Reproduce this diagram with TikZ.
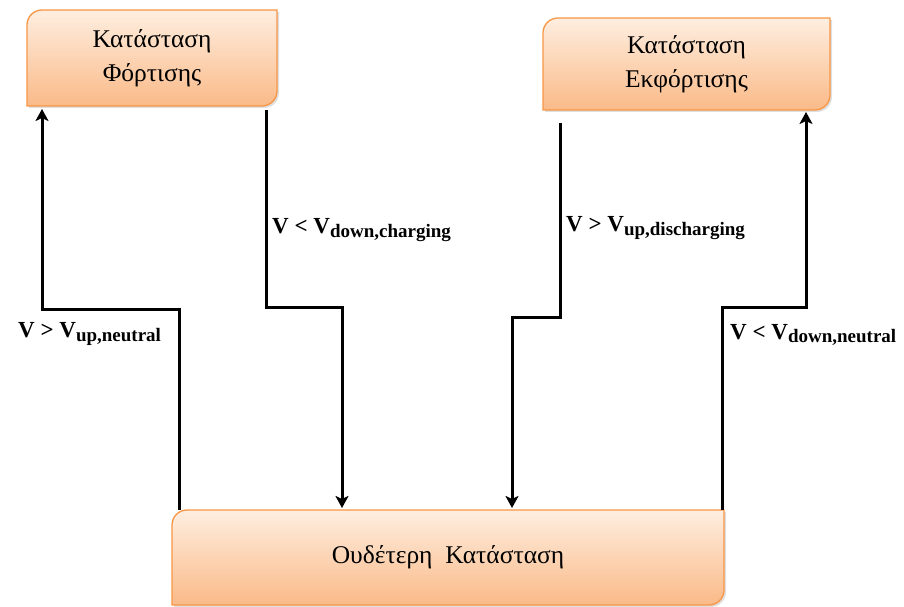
\documentclass[tikz,border=0pt]{standalone}
\usepackage{fontspec}
\setmainfont{Liberation Serif}
\usetikzlibrary{arrows.meta,shadows}
\definecolor{boxtop}{RGB}{254,238,224}
\definecolor{boxbot}{RGB}{250,186,136}
\definecolor{boxline}{RGB}{247,150,70}
\pgfdeclarelayer{bg}
\pgfsetlayers{bg,main}
\newcommand\drawstatebox[1]{%
  \path[boxshape] ([yshift=-15pt]#1.north west) arc[start angle=180,end angle=90,radius=15pt]
    -- (#1.north east) -- ([yshift=15pt]#1.south east) arc[start angle=0,end angle=-90,radius=15pt]
    -- (#1.south west) -- cycle;}
\newcommand\sub[1]{\raisebox{-0.3ex}{\fontsize{19}{19}\selectfont #1}}
\begin{document}
\begin{tikzpicture}[x=1pt,y=1pt,
  state/.style={rectangle, outer sep=0pt, inner sep=0pt, align=center,
    font=\fontsize{25.5}{34}\selectfont},
  boxshape/.style={top color=boxtop, bottom color=boxbot, draw=boxline, line width=1.3pt,
    drop shadow={opacity=0.25, shadow xshift=2pt, shadow yshift=-2pt}},
  arr/.style={line width=3pt, line join=miter, -{Stealth[length=12pt,width=13pt,inset=3pt]}},
  lab/.style={anchor=west, inner sep=0pt, font=\bfseries\fontsize{23}{23}\selectfont}]
\useasboundingbox (0,0) rectangle (904,607);

\node[state, minimum width=250pt, minimum height=96pt] (A) at (152,549) {Κατάσταση\\Φόρτισης};
\node[state, minimum width=287pt, minimum height=92pt] (B) at (686.5,543) {Κατάσταση\\Εκφόρτισης};
\node[state, minimum width=552pt, minimum height=95pt] (C) at (448,49.5) {Ουδέτερη\ \ Κατάσταση};

\begin{pgfonlayer}{bg}
\drawstatebox{A}
\drawstatebox{B}
\drawstatebox{C}
\end{pgfonlayer}

% connectors
\draw[arr] ([xshift=7pt]C.north west) -- ++(0,200) -| ([xshift=15pt,yshift=-3pt]A.south west);
\draw[arr] ([xshift=-11pt,yshift=-4pt]A.south east) -- ++(0,-198) -| ([xshift=170pt,yshift=2pt]C.north west);
\draw[arr] ([xshift=17pt,yshift=-13pt]B.south west) -- ++(0,-195) -| ([xshift=340pt,yshift=2pt]C.north west);
\draw[arr] ([xshift=-2pt]C.north east) -- ++(0,202) -| ([xshift=-24pt,yshift=-2pt]B.south east);

% labels
\node[lab] (l1) at (18,273) {V > V\sub{up,neutral}};
\node[lab] (l2) at (272,377) {V < V\sub{down,charging}};
\node[lab] (l3) at (566,379) {V > V\sub{up,discharging}};
\node[lab] (l4) at (730,272) {V < V\sub{down,neutral}};
\end{tikzpicture}
\end{document}
